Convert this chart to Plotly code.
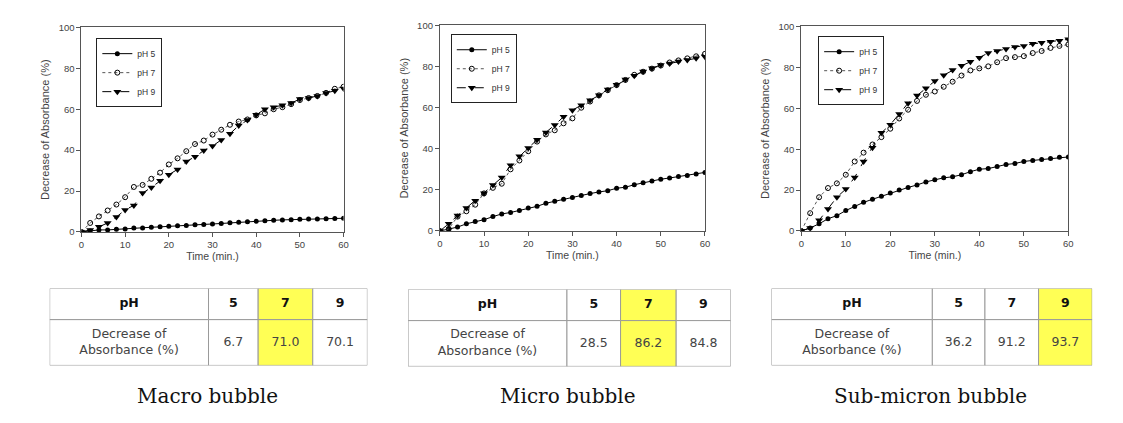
import plotly.graph_objects as go

# ---------------- data ----------------
time_min = [0, 2, 4, 6, 8, 10, 12, 14, 16, 18, 20, 22, 24, 26, 28, 30,
            32, 34, 36, 38, 40, 42, 44, 46, 48, 50, 52, 54, 56, 58, 60]

macro_ph5 = [0, 0.5, 1.0, 1.0, 1.3, 1.5, 2.0, 2.0, 2.3, 2.5, 2.8, 3.0, 3.2, 3.5, 3.7, 3.9,
             4.2, 4.5, 4.7, 5.0, 5.2, 5.5, 5.7, 5.9, 6.0, 6.2, 6.3, 6.4, 6.5, 6.6, 6.7]
macro_ph7 = [0, 4.4, 7.6, 10.5, 13.4, 17.0, 22.0, 23.0, 26.0, 29.0, 33.0, 36.0, 39.5, 43.0, 44.7, 47.6,
             50.0, 52.4, 54.0, 55.0, 57.0, 58.0, 60.0, 61.0, 62.5, 64.5, 65.5, 66.5, 68.0, 70.0, 71.0]
macro_ph9 = [0, 1.0, 2.5, 4.4, 7.3, 10.8, 13.0, 19.0, 21.8, 25.0, 28.0, 30.6, 34.4, 36.8, 39.8, 42.0,
             45.0, 48.0, 52.0, 54.8, 57.3, 60.0, 61.0, 62.0, 63.0, 65.0, 65.5, 66.5, 68.0, 69.0, 70.1]

micro_ph5 = [0, 1.0, 1.9, 3.5, 4.6, 5.5, 7.0, 8.3, 9.0, 10.0, 11.2, 12.0, 13.5, 14.5, 15.5, 16.3,
             17.3, 18.2, 19.0, 19.6, 20.8, 21.3, 22.5, 23.5, 24.3, 25.2, 25.8, 26.5, 27.0, 27.7, 28.5]
micro_ph7 = [0, 1.0, 7.0, 9.6, 12.8, 18.3, 21.0, 23.0, 30.0, 34.3, 38.8, 43.5, 47.0, 49.0, 52.4, 54.8,
             60.0, 63.0, 66.0, 68.5, 71.0, 73.5, 76.0, 77.5, 79.0, 80.5, 82.0, 83.0, 84.0, 85.0, 86.2]
micro_ph9 = [0, 3.5, 7.5, 11.2, 14.7, 18.4, 22.4, 26.0, 32.0, 36.4, 40.4, 44.4, 47.9, 51.6, 55.6, 58.8,
             61.2, 63.6, 66.0, 68.9, 71.2, 73.7, 75.6, 77.6, 79.2, 80.8, 81.5, 82.5, 83.2, 84.0, 84.8]

sub_ph5 = [0, 1.5, 3.5, 6.0, 7.5, 10.0, 12.0, 14.0, 15.5, 17.0, 18.6, 20.0, 21.3, 22.5, 24.0, 25.0,
           26.0, 26.5, 27.5, 29.0, 30.2, 30.5, 31.5, 32.5, 33.0, 34.0, 34.5, 35.0, 35.5, 36.0, 36.2]
sub_ph7 = [0, 8.7, 16.5, 21.0, 23.3, 27.5, 34.0, 38.3, 42.3, 45.9, 50.0, 55.0, 59.3, 63.6, 66.6, 68.2,
           70.5, 73.0, 76.0, 78.5, 79.5, 80.5, 82.5, 84.5, 85.0, 85.5, 87.0, 88.0, 89.5, 90.5, 91.2]
sub_ph9 = [0, 1.5, 5.2, 10.8, 16.5, 20.5, 26.2, 34.0, 40.7, 48.0, 52.0, 57.2, 62.5, 66.2, 69.8, 73.3,
           76.2, 78.7, 80.8, 82.7, 84.7, 87.0, 88.0, 89.0, 90.0, 90.5, 91.5, 92.0, 92.5, 93.0, 93.7]

series_names = ["pH 5", "pH 7", "pH 9"]
table_ph = ["5", "7", "9"]
table_row_labels = ["pH", "Decrease of<br>Absorbance (%)"]
macro_table = ["6.7", "71.0", "70.1"]
micro_table = ["28.5", "86.2", "84.8"]
sub_table = ["36.2", "91.2", "93.7"]
captions = ["Macro bubble", "Micro bubble", "Sub-micron bubble"]
x_ticks = [0, 10, 20, 30, 40, 50, 60]
y_ticks = [0, 20, 40, 60, 80, 100]

# ---------------- layout geometry (pixels) ----------------
W, H = 1123, 423
row_h = [32, 47]
panels = [
    dict(ys=[macro_ph5, macro_ph7, macro_ph9], table=macro_table, cap=captions[0],
         xd=[79, 343], yd=[22, 232], leg=[94, 33], tx=[47, 367], ty=290,
         cw=[160, 50, 55, 55]),
    dict(ys=[micro_ph5, micro_ph7, micro_ph9], table=micro_table, cap=captions[1],
         xd=[440, 707], yd=[20, 231], leg=[451, 29], tx=[408, 733], ty=291,
         cw=[160, 54, 56, 55]),
    dict(ys=[sub_ph5, sub_ph7, sub_ph9], table=sub_table, cap=captions[2],
         xd=[804, 1073], yd=[21, 231], leg=[821, 31], tx=[774, 1097], ty=290,
         cw=[162, 53, 54, 54]),
]

styles = [
    dict(mode="lines+markers", line=dict(color="black", width=1, dash="solid"),
         marker=dict(symbol="circle", size=5, color="black")),
    dict(mode="lines+markers", line=dict(color="#555555", width=1, dash="dot"),
         marker=dict(symbol="circle-open", size=5, color="black", line=dict(width=1))),
    dict(mode="lines+markers", line=dict(color="black", width=1, dash="dash"),
         marker=dict(symbol="triangle-down", size=7, color="black")),
]

fig = go.Figure()
layout = dict(width=W, height=H, margin=dict(l=0, r=0, t=0, b=0), autosize=False,
              paper_bgcolor="white", plot_bgcolor="white", annotations=[], shapes=[])

for i, p in enumerate(panels):
    n = i + 1
    xa = "x" if n == 1 else f"x{n}"
    ya = "y" if n == 1 else f"y{n}"
    leg = "legend" if n == 1 else f"legend{n}"
    for s in range(3):
        fig.add_trace(go.Scatter(x=time_min, y=p["ys"][s], name=series_names[s],
                                 xaxis=xa, yaxis=ya, legend=leg, **styles[s]))
    axis_common = dict(showline=True, mirror=True, linecolor="#555555", linewidth=1,
                       ticks="outside", ticklen=4, tickcolor="#555555", showgrid=False,
                       zeroline=False, tickfont=dict(family="Arial", size=9.5, color="#444444"))
    layout["xaxis" if n == 1 else f"xaxis{n}"] = dict(
        domain=[p["xd"][0] / W, p["xd"][1] / W], anchor=ya, range=[0, 60],
        tickvals=x_ticks, title=dict(text="Time (min.)", standoff=0,
                                     font=dict(family="Arial", size=10.5, color="#444444")),
        **axis_common)
    layout["yaxis" if n == 1 else f"yaxis{n}"] = dict(
        domain=[1 - p["yd"][1] / H, 1 - p["yd"][0] / H], anchor=xa, range=[0, 100],
        tickvals=y_ticks, title=dict(text="Decrease of Absorbance (%)", standoff=6,
                                     font=dict(family="Arial", size=11, color="#444444")),
        **axis_common)
    layout[leg] = dict(x=p["leg"][0] / W, y=1 - p["leg"][1] / H, xanchor="left", yanchor="top",
                       bgcolor="white", bordercolor="#222222", borderwidth=1,
                       font=dict(family="Arial", size=8.5, color="#333333"),
                       itemwidth=30, tracegroupgap=0)

    # ---------- table drawn on its own hidden axes ----------
    tn = n + 3
    txa, tya = f"x{tn}", f"y{tn}"
    total_w = sum(p["cw"])
    total_h = sum(row_h)
    layout[f"xaxis{tn}"] = dict(domain=[p["tx"][0] / W, p["tx"][1] / W], anchor=tya,
                                range=[0, total_w], visible=False, fixedrange=True)
    layout[f"yaxis{tn}"] = dict(domain=[1 - (p["ty"] + total_h) / H, 1 - p["ty"] / H], anchor=txa,
                                range=[total_h, 0], visible=False, fixedrange=True)
    vals = [float(v) for v in p["table"]]
    best = vals.index(max(vals))
    col_edges = [0]
    for w in p["cw"]:
        col_edges.append(col_edges[-1] + w)
    row_edges = [0, row_h[0], row_h[0] + row_h[1]]
    texts_x, texts_y, texts, fonts_c = [], [], [], []
    for r in range(2):
        for c in range(4):
            fill = "#ffff55" if (c >= 1 and c - 1 == best) else "white"
            layout["shapes"].append(dict(type="rect", xref=txa, yref=tya,
                                         x0=col_edges[c], x1=col_edges[c + 1],
                                         y0=row_edges[r], y1=row_edges[r + 1],
                                         fillcolor=fill, line=dict(color="#9a9a9a", width=1),
                                         layer="below"))
            if c == 0:
                t = table_row_labels[r]
            else:
                t = table_ph[c - 1] if r == 0 else p["table"][c - 1]
            if r == 0:
                t = f"<b>{t}</b>"
            texts_x.append((col_edges[c] + col_edges[c + 1]) / 2)
            texts_y.append((row_edges[r] + row_edges[r + 1]) / 2)
            texts.append(t)
            fonts_c.append("#111111" if r == 0 else "#444444")
    fig.add_trace(go.Scatter(x=texts_x, y=texts_y, text=texts, mode="text",
                             textposition="middle center", xaxis=txa, yaxis=tya,
                             textfont=dict(family="DejaVu Sans", size=12.5, color=fonts_c),
                             showlegend=False, hoverinfo="skip"))
    layout["annotations"].append(dict(
        text=p["cap"], xref="paper", yref="paper",
        x=(p["tx"][0] + p["tx"][1]) / 2 / W - 1 / W, y=1 - 400 / H, xanchor="center", yanchor="middle",
        showarrow=False, font=dict(family="DejaVu Serif", size=20, color="#111111")))

fig.update_layout(**layout)
fig.write_html("out.html", config={"displayModeBar": False},
               post_script="document.body.style.margin='0';document.body.style.overflow='hidden';")
